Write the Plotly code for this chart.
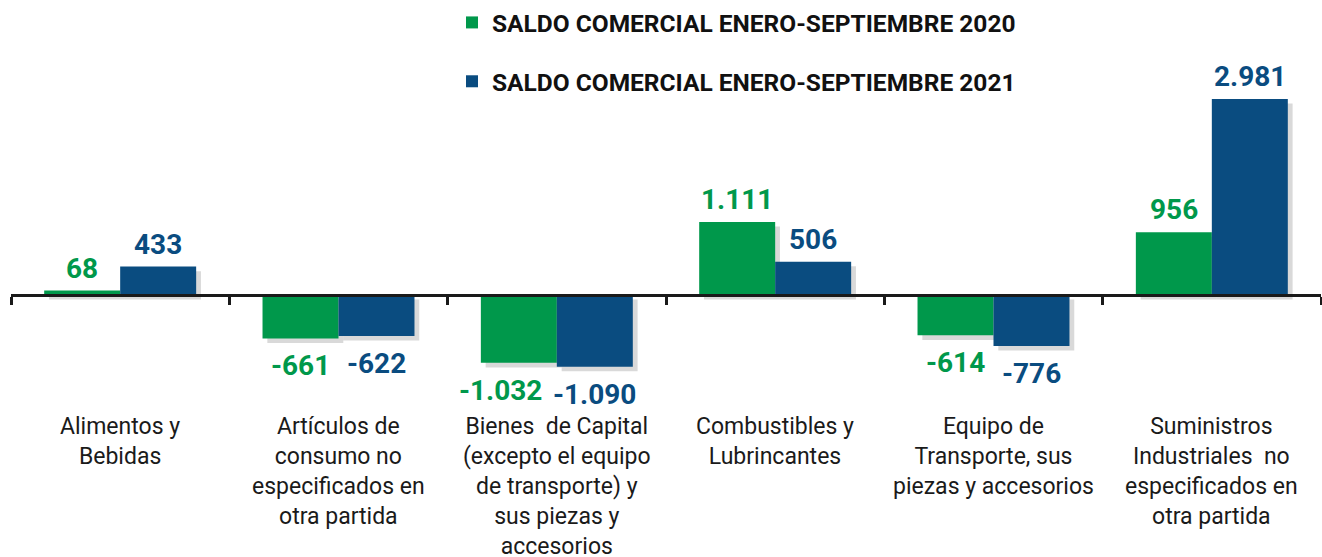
import plotly.graph_objects as go

# ---- data ----
categories = [
    "Alimentos y<br>Bebidas",
    "Artículos de<br>consumo no<br>especificados en<br>otra partida",
    "Bienes  de Capital<br>(excepto el equipo<br>de transporte) y<br>sus piezas y<br>accesorios",
    "Combustibles y<br>Lubrincantes",
    "Equipo de<br>Transporte, sus<br>piezas y accesorios",
    "Suministros<br>Industriales  no<br>especificados en<br>otra partida",
]
saldo_2020 = [68, -661, -1032, 1111, -614, 956]
saldo_2021 = [433, -622, -1090, 506, -776, 2981]
series_names = [
    "SALDO COMERCIAL ENERO-SEPTIEMBRE 2020",
    "SALDO COMERCIAL ENERO-SEPTIEMBRE 2021",
]

# ---- style ----
GREEN = "#00984B"
BLUE = "#0A4C80"
W = 0.348
SH_DX = 0.022
SH_DY = 70
FONT = "Roboto, sans-serif"
Y_RANGE = [-3985, 4487]
ZERO_FRAC = -Y_RANGE[0] / (Y_RANGE[1] - Y_RANGE[0])
LABEL_XSHIFT = {(0, 2): -18}   # (series, category) -> pixel nudge to avoid overlap

fig = go.Figure()

# drop shadows
for vals, off in ((saldo_2020, -W), (saldo_2021, 0.0)):
    fig.add_trace(go.Bar(
        x=categories, y=vals, base=[-SH_DY] * len(vals),
        width=W, offset=off + SH_DX,
        marker=dict(color="rgba(0,0,0,0.15)", line=dict(width=0)),
        showlegend=False, hoverinfo="skip",
    ))

for vals, off, col, name, grp in ((saldo_2020, -W, GREEN, series_names[0], "a"),
                                  (saldo_2021, 0.0, BLUE, series_names[1], "b")):
    fig.add_trace(go.Bar(
        x=categories, y=vals, width=W, offset=off, name=name,
        legendgroup=grp,
        marker=dict(color=col, line=dict(width=0)),
        hoverinfo="skip",
    ))

def fmt(v):
    return f"{v:,}".replace(",", ".")

annotations = []
for s, (vals, dx, col) in enumerate(((saldo_2020, -W / 2, GREEN), (saldo_2021, W / 2, BLUE))):
    for i, v in enumerate(vals):
        annotations.append(dict(
            x=i + dx, y=v, xref="x", yref="y", text=fmt(v), showarrow=False,
            yanchor="bottom" if v >= 0 else "top",
            yshift=4 if v >= 0 else -9,
            xshift=LABEL_XSHIFT.get((s, i), 0),
            font=dict(family=FONT, size=28, color=col, weight="bold"),
        ))

for i, c in enumerate(categories):
    annotations.append(dict(
        x=i, y=1 - 411 / 557, xref="x", yref="paper", text=c, showarrow=False,
        yanchor="top", xanchor="center", align="center",
        font=dict(family=FONT, size=23, color="#1a1a1a"),
    ))

fig.update_layout(
    width=1322, height=557,
    margin=dict(l=11, r=1, t=0, b=0, autoexpand=False),
    paper_bgcolor="white", plot_bgcolor="white",
    barmode="overlay",
    separators=",.",
    showlegend=True,
    legend=dict(
        x=(452 - 11) / 1310, xanchor="left", y=1, yanchor="top",
        orientation="v", tracegroupgap=24,
        font=dict(family=FONT, size=24.5, color="#111111", weight="bold"),
        bgcolor="rgba(0,0,0,0)",
    ),
    xaxis=dict(
        type="category", range=[-0.5, len(categories) - 0.5],
        anchor="free", position=ZERO_FRAC,
        showline=True, linecolor="#1a1a1a", linewidth=3,
        ticks="outside", tickson="boundaries", ticklen=8, tickwidth=2.5,
        tickcolor="#1a1a1a", showticklabels=False, showgrid=False, zeroline=False,
        fixedrange=True,
    ),
    yaxis=dict(
        range=Y_RANGE, visible=False, showgrid=False, zeroline=False, fixedrange=True,
    ),
    annotations=annotations,
    hovermode=False,
)

fig.write_html(
    "out.html",
    config={"displayModeBar": False},
    post_script="document.body.style.margin='0';document.body.style.overflow='hidden';",
)
